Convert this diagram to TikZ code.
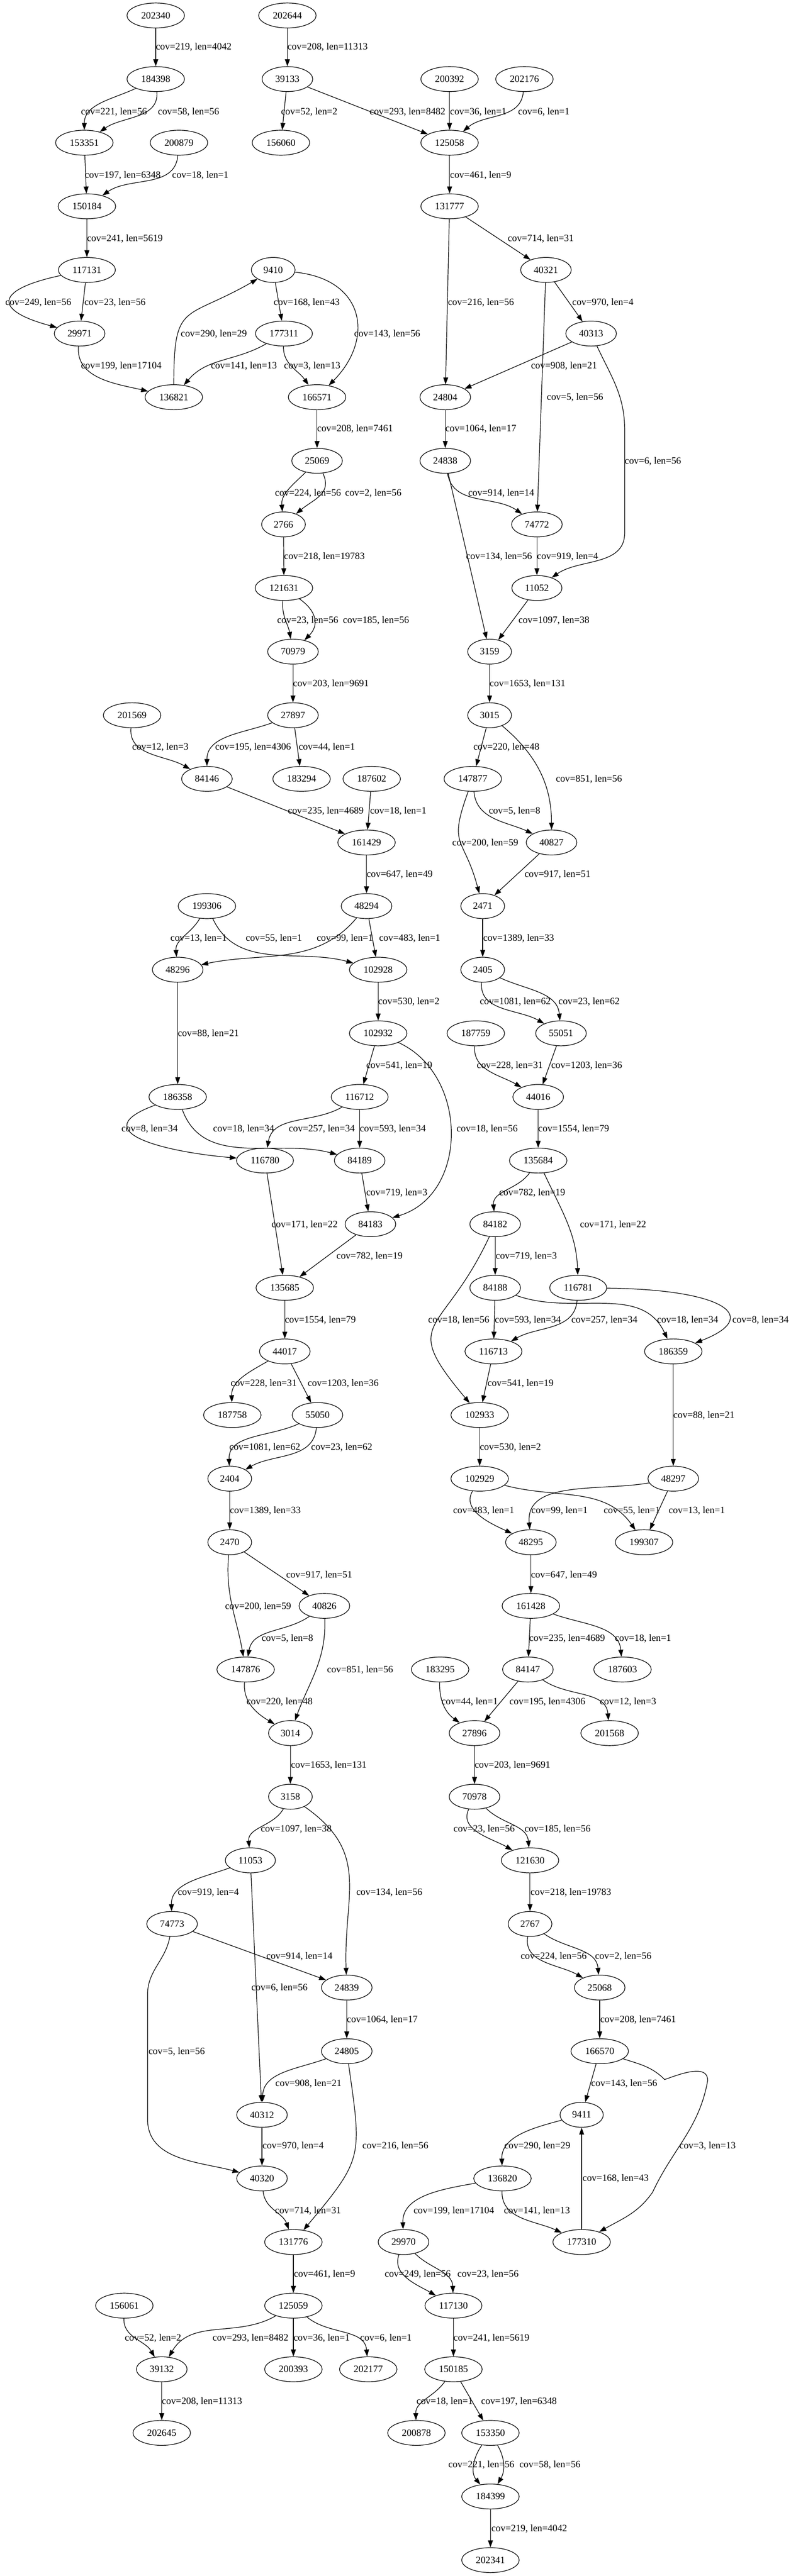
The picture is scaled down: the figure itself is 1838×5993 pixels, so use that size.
\documentclass[tikz,border=0pt]{standalone}
\usepackage{fontspec}
\setmainfont{Liberation Serif}
\usetikzlibrary{shapes.geometric, arrows.meta}

\tikzset{
    nd/.style = {ellipse, draw, line width = 0.9pt, minimum height = 36pt, inner xsep = 8.3pt, inner ysep = 2pt},
    lbl/.style = {anchor = west, inner sep = 0pt},
    conn/.style = {line width = 0.9pt, -{Triangle[length = 10pt, width = 7pt]}}
}

\begin{document}
\begin{tikzpicture}[x = 0.62pt, y = 0.62pt, font = \fontsize{14}{16}\selectfont]
    \useasboundingbox (0, 0) rectangle (1838, -5993);

    % contigs
    \foreach \n/\x/\y in {202340/362/36, 202644/668/36,
        184398/362/184, 39133/668/184, 200392/1045/184, 202176/1219/184,
        153351/196/332, 200879/416/332, 156060/653/332, 125058/1045/332,
        150184/202/480, 131777/1045/480,
        117131/202/628, 9410/635/628, 40321/1269/628,
        29971/185/776, 177311/660/776, 40313/1374/776,
        136821/404/924, 166571/737/924, 24804/1035/924,
        25069/737/1072, 24838/1035/1072,
        2766/659/1220, 74772/1248/1220,
        121631/660/1368, 11052/1248/1368,
        70979/681/1516, 3159/1138/1516,
        201569/307/1664, 27897/681/1664, 3015/1138/1664,
        84146/481/1812, 183294/701/1812, 187602/864/1812, 147877/1099/1812,
        161429/852/1960, 40827/1282/1960,
        199306/481/2108, 48294/852/2108, 2471/1122/2108,
        48296/413/2256, 102928/879/2256, 2405/1122/2256,
        102932/879/2404, 187759/1106/2404, 55051/1304/2404,
        186358/413/2552, 116712/836/2552, 44016/1251/2552,
        116780/616/2700, 84189/836/2700, 135684/1251/2700,
        84183/861/2848, 84182/1151/2848,
        135685/662/2996, 84188/1151/2996, 116781/1344/2996,
        44017/662/3144, 116713/1147/3144, 186359/1565/3144,
        187758/540/3292, 55050/738/3292, 102933/1115/3292,
        2404/534/3440, 102929/1115/3440, 48297/1565/3440,
        2470/534/3588, 48295/1234/3588, 199307/1497/3588,
        40826/754/3736, 161428/1234/3736,
        147876/571/3884, 183295/1023/3884, 84147/1227/3884, 187603/1447/3884,
        3014/675/4032, 27896/1103/4032, 201568/1417/4032,
        3158/675/4180, 70978/1103/4180,
        11053/582/4328, 121630/1232/4328,
        74773/400/4476, 2767/1232/4476,
        24839/806/4624, 25068/1394/4624,
        24805/806/4772, 166570/1394/4772,
        40312/609/4920, 9411/1352/4920,
        40320/609/5068, 136820/1168/5068,
        131776/682/5216, 29970/938/5216, 177310/1352/5216,
        156061/289/5364, 125059/682/5364, 117130/1054/5364,
        39132/376/5512, 200393/682/5512, 202177/856/5512, 150185/1054/5512,
        202645/376/5660, 200878/968/5660, 153350/1140/5660,
        184399/1140/5808, 202341/1140/5956}{
        \node[nd] (n\n) at (\x, -\y) {\n};
    }

    % straight links
    \foreach \a/\b in {202340/184398, 202644/39133, 39133/156060, 39133/125058, 200392/125058,
        153351/150184, 125058/131777, 150184/117131, 131777/40321, 131777/24804, 117131/29971,
        9410/177311, 40321/40313, 40321/74772, 40313/24804, 166571/25069, 24804/24838,
        24838/3159, 2766/121631, 74772/11052, 11052/3159, 70979/27897, 3159/3015,
        27897/183294, 3015/147877, 84146/161429, 187602/161429, 40827/2471, 161429/48294,
        48294/102928, 2471/2405, 102928/102932, 48296/186358, 102932/116712, 55051/44016,
        116712/84189, 44016/135684, 84189/84183, 116780/135685, 84183/135685, 84182/84188,
        135685/44017, 84188/116713, 44017/55050, 116713/102933, 186359/48297, 102933/102929,
        2404/2470, 48297/199307, 2470/40826, 48295/161428, 161428/84147, 84147/27896,
        3014/3158, 27896/70978, 11053/40312, 121630/2767, 74773/24839, 24839/24805,
        25068/166570, 166570/9411, 177310/9411, 40312/40320, 131776/125059, 125059/200393,
        117130/150185, 39132/202645, 150185/153350, 184399/202341}{
        \draw[conn] (n\a) -- (n\b);
    }

    % curved links
    \draw[conn] (n184398) to[out=-155, in=90] (n153351);
    \draw[conn] (n184398) to[out=-85, in=35] (n153351);
    \draw[conn] (n202176) to[out=-95, in=40] (n125058);
    \draw[conn] (n200879) to[out=-95, in=35] (n150184);
    \draw[conn] (n117131) to[out=-168, in=165, looseness=3.3] (n29971);
    \draw[conn] (n9410) .. controls (850, -650) and (870, -790) .. (n166571);
    \draw[conn] (n136821) to[out=90, in=-150, looseness=1.6] (n9410);
    \draw[conn] (n29971) to[out=-95, in=167] (n136821);
    \draw[conn] (n177311) to[out=-150, in=50] (n136821);
    \draw[conn] (n177311) to[out=-92, in=125] (n166571);
    \draw[conn] (n40313) to[out=-65, in=90] (1452, -1000) -- (1452, -1240) to[out=-90, in=35] (n11052);
    \draw[conn] (n25069) to[out=-135, in=95] (n2766);
    \draw[conn] (n25069) to[out=-65, in=40, looseness=1.2] (n2766);
    \draw[conn] (n24838) to[out=-80, in=145] (n74772);
    \draw[conn] (n121631) to[out=-95, in=100] (n70979);
    \draw[conn] (n121631) to[out=-35, in=45, looseness=1.3] (n70979);
    \draw[conn] (n201569) to[out=-95, in=150] (n84146);
    \draw[conn] (n27897) to[out=-160, in=90] (n84146);
    \draw[conn] (n3015) to[out=-40, in=90] (n40827);
    \draw[conn] (n147877) to[out=-85, in=155] (n40827);
    \draw[conn] (n147877) to[out=-110, in=105, looseness=1.5] (n2471);
    \draw[conn] (n199306) to[out=-120, in=95] (n48296);
    \draw[conn] (n199306) to[out=-65, in=165] (n102928);
    \draw[conn] (n48294) to[out=-130, in=12] (n48296);
    \draw[conn] (n2405) to[out=-95, in=150] (n55051);
    \draw[conn] (n2405) to[out=-25, in=95] (n55051);
    \draw[conn] (n102932) .. controls (1090, -2500) and (1090, -2780) .. (n84183);
    \draw[conn] (n187759) to[out=-95, in=150] (n44016);
    \draw[conn] (n186358) to[out=-160, in=175, looseness=2] (n116780);
    \draw[conn] (n186358) to[out=-70, in=165] (n84189);
    \draw[conn] (n116712) to[out=-150, in=80] (n116780);
    \draw[conn] (n135684) to[out=-125, in=95] (n84182);
    \draw[conn] (n135684) to[out=-65, in=92] (n116781);
    \draw[conn] (n84182) to[out=-115, in=130, looseness=1.7] (n102933);
    \draw[conn] (n116781) to[out=-95, in=30] (n116713);
    \draw[conn] (n84188) to[out=-20, in=115] (n186359);
    \draw[conn] (n116781) .. controls (1690, -3000) and (1770, -3065) .. (n186359);
    \draw[conn] (n44017) to[out=-150, in=92] (n187758);
    \draw[conn] (n55050) to[out=-155, in=92] (n2404);
    \draw[conn] (n55050) to[out=-95, in=30] (n2404);
    \draw[conn] (n102929) to[out=-120, in=155] (n48295);
    \draw[conn] (n48297) to[out=-170, in=95] (n48295);
    \draw[conn] (n102929) to[out=-15, in=125] (n199307);
    \draw[conn] (n2470) to[out=-95, in=100] (n147876);
    \draw[conn] (n40826) to[out=-145, in=80] (n147876);
    \draw[conn] (n40826) to[out=-88, in=70] (n3014);
    \draw[conn] (n161428) to[out=-20, in=95] (n187603);
    \draw[conn] (n147876) to[out=-95, in=150] (n3014);
    \draw[conn] (n183295) to[out=-92, in=145] (n27896);
    \draw[conn] (n84147) to[out=-35, in=95] (n201568);
    \draw[conn] (n3158) to[out=-120, in=95] (n11053);
    \draw[conn] (n3158) to[out=-35, in=92, looseness=1.2] (n24839);
    \draw[conn] (n70978) to[out=-115, in=150] (n121630);
    \draw[conn] (n70978) to[out=-45, in=95] (n121630);
    \draw[conn] (n11053) to[out=-160, in=92] (n74773);
    \draw[conn] (n74773) to[out=-100, in=90] (343, -4640) -- (343, -4930) to[out=-90, in=165] (n40320);
    \draw[conn] (n2767) to[out=-100, in=150] (n25068);
    \draw[conn] (n2767) to[out=-35, in=95] (n25068);
    \draw[conn] (n24805) to[out=-160, in=88] (n40312);
    \draw[conn] (n24805) to[out=-82, in=50, looseness=1.4] (n131776);
    \draw[conn] (n166570) to[out=-18, in=135] (1545, -4838) to[out=20, in=90] (1645, -4840)
        to[out=-100, in=65] (1517, -5100) to[out=-125, in=30] (n177310);
    \draw[conn] (n9411) to[out=-165, in=92] (n136820);
    \draw[conn] (n40320) to[out=-85, in=110] (n131776);
    \draw[conn] (n136820) to[out=-170, in=92] (n29970);
    \draw[conn] (n136820) to[out=-92, in=155] (n177310);
    \draw[conn] (n29970) to[out=-110, in=150] (n117130);
    \draw[conn] (n29970) to[out=-45, in=92] (n117130);
    \draw[conn] (n156061) to[out=-92, in=120] (n39132);
    \draw[conn] (n125059) to[out=-150, in=60] (n39132);
    \draw[conn] (n125059) to[out=-40, in=95] (n202177);
    \draw[conn] (n150185) to[out=-125, in=92] (n200878);
    \draw[conn] (n153350) to[out=-125, in=130] (n184399);
    \draw[conn] (n153350) to[out=-60, in=60] (n184399);

    % link labels
    \foreach \x/\y/\c/\l [count=\i] in {362/110/219/4042, 668/110/208/11313,
        188/260/221/56, 367/260/58/56, 653/260/52/2, 859/260/293/8482, 1046/260/36/1, 1204/260/6/1,
        197/408/197/6348, 400/408/18/1, 1046/408/461/9,
        202/556/241/5619, 1180/556/714/31,
        1041/704/216/56, 12/704/249/56, 196/704/23/56, 636/704/168/43, 1330/704/970/4,
        823/777/143/56, 420/777/290/29,
        1271/925/5/56,
        188/852/199/17104, 490/852/141/13, 660/852/3/13, 1234/852/908/21,
        1452/1073/6/56, 737/998/208/7461, 1035/998/1064/17,
        639/1147/224/56, 802/1147/2/56, 1088/1147/914/14,
        1083/1295/134/56, 660/1295/218/19783, 1248/1295/919/4,
        644/1443/23/56, 797/1443/185/56, 1205/1443/1097/38,
        681/1591/203/9691, 1138/1591/1653/131,
        307/1739/12/3, 500/1739/195/4306, 694/1739/44/1, 1100/1739/220/48,
        1292/1813/851/56,
        669/1887/235/4689, 860/1887/18/1, 1136/1887/5/8,
        1051/1961/200/59,
        1219/2035/917/51, 852/2035/647/49,
        396/2183/13/1, 571/2183/55/1, 736/2183/99/1, 881/2183/483/1, 1123/2183/1389/33,
        1115/2331/1081/62, 1298/2331/23/62, 879/2331/530/2,
        413/2405/88/21,
        851/2479/541/19, 1108/2479/228/31, 1281/2479/1203/36,
        1061/2627/18/56, 282/2627/8/34, 495/2627/18/34, 671/2627/257/34, 836/2627/593/34, 1251/2627/1554/79,
        851/2775/719/3, 1160/2775/782/19,
        1348/2849/171/22, 631/2849/171/22,
        782/2923/782/19, 1152/2923/719/3,
        995/3071/18/56, 662/3071/1554/79, 1150/3071/593/34, 1328/3071/257/34, 1527/3071/18/34, 1702/3071/8/34,
        536/3219/228/31, 715/3219/1203/36, 1133/3219/541/19,
        1565/3293/88/21,
        533/3367/1081/62, 723/3367/23/62, 1115/3367/530/2,
        534/3515/1389/33, 1053/3515/483/1, 1235/3515/99/1, 1403/3515/55/1, 1554/3515/13/1,
        665/3664/917/51, 1234/3664/647/49,
        523/3738/200/59,
        608/3812/5/8, 1230/3812/235/4689, 1429/3812/18/1,
        760/3885/851/56,
        573/3959/220/48, 1026/3959/44/1, 1184/3959/195/4306, 1394/3959/12/3,
        676/4107/1653/131, 1103/4107/203/9691,
        606/4255/1097/38, 1054/4255/23/56, 1219/4255/185/56,
        828/4403/134/56, 413/4403/919/4, 1233/4403/218/19783,
        619/4551/914/14, 1210/4551/224/56, 1383/4551/2/56,
        584/4625/6/56,
        806/4699/1064/17, 1395/4699/208/7461,
        345/4773/5/56,
        640/4847/908/21, 1374/4847/143/56,
        842/4993/216/56, 1579/4993/3/13, 1172/4993/290/29, 610/4993/970/4,
        1354/5068/168/43,
        639/5144/714/31, 961/5144/199/17104, 1171/5144/141/13,
        683/5291/461/9, 894/5291/249/56, 1063/5291/23/56,
        290/5440/52/2, 494/5440/293/8482, 682/5440/36/1, 837/5440/6/1, 1054/5440/241/5619,
        376/5587/208/11313, 968/5587/18/1, 1118/5587/197/6348,
        1042/5735/221/56, 1207/5735/58/56,
        1142/5883/219/4042}{
        \node[lbl] (lab\i) at (\x, -\y) {cov=\c, len=\l};
    }
\end{tikzpicture}
\end{document}
